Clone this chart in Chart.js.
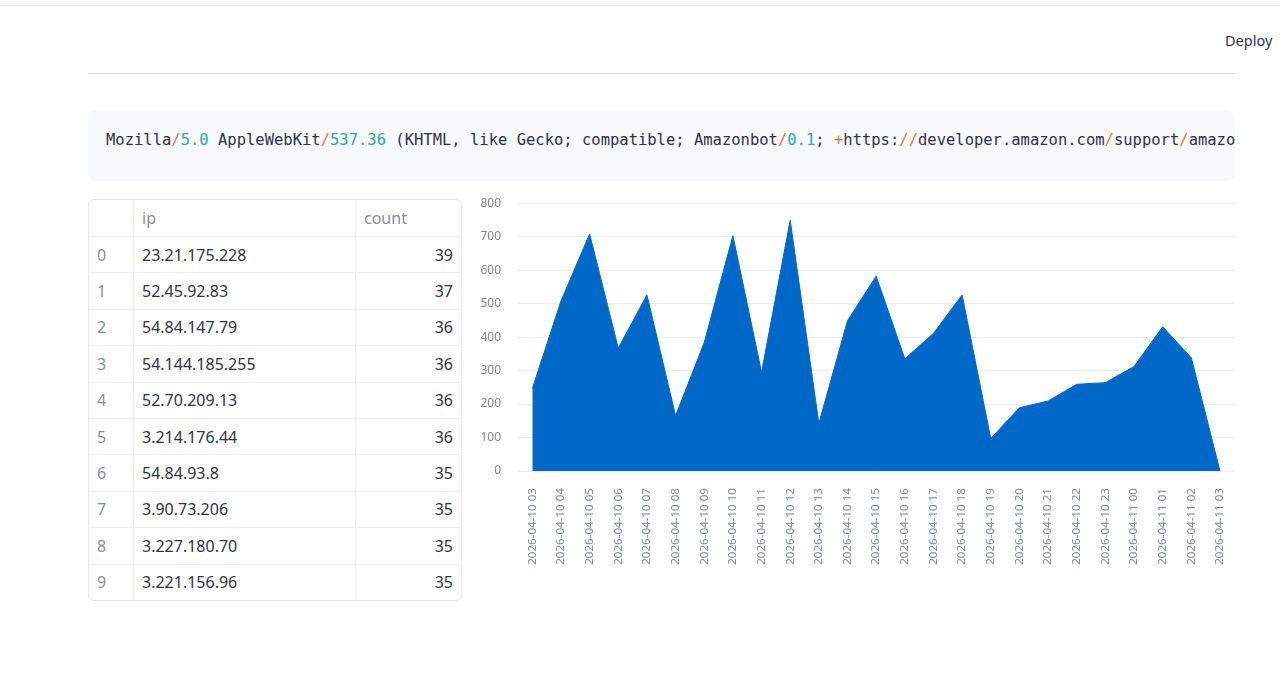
<!DOCTYPE html>
<html>
<head>
<meta charset="utf-8">
<script src="https://cdn.jsdelivr.net/npm/chart.js@4"></script>
<style>
  body { margin: 0; background: #fff; font-family: "Noto Sans", sans-serif; color: #31333f; width: 1280px; height: 684px; position: relative; overflow: hidden; }
  .topline { position: absolute; left: 0; top: 5px; width: 1280px; height: 1px; background: #e6e8ec; }
  .deploy { position: absolute; left: 1225px; top: 30px; font-size: 14.5px; color: #31333f; }
  .rule { position: absolute; left: 88px; top: 73px; width: 1147px; height: 1px; background: #d9dbe0; }
  .code { position: absolute; left: 88px; top: 110px; width: 1147px; height: 71px; background: #f8f9fb; border-radius: 8px; overflow: hidden; }
  .code pre { margin: 0; position: absolute; left: 18px; top: 19px; font-family: "DejaVu Sans Mono", monospace; font-size: 15.5px; line-height: 22px; color: #31333f; white-space: pre; }
  .sl { color: #e0774a; }
  .nu { color: #2fa7a0; }
  .tbl { position: absolute; left: 88px; top: 199px; width: 372px; border: 1px solid #e6e8ee; border-radius: 6px; overflow: hidden; }
  table { border-collapse: collapse; width: 100%; font-size: 16px; }
  td, th { border-right: 1px solid #eceef2; border-bottom: 1px solid #eceef2; height: 35.4px; padding: 0 8px; font-weight: normal; text-align: left; }
  tr:last-child td { border-bottom: none; }
  td:last-child, th:last-child { border-right: none; }
  th { color: #8b8e99; height: 36px; }
  td.i { color: #8b8e99; width: 28px; }
  td.ip { width: 205px; }
  td.c { text-align: right; }
  #wrap { position: absolute; left: 470px; top: 179px; width: 781px; height: 396px; }
</style>
</head>
<body>
<div class="topline"></div>
<div class="deploy">Deploy</div>
<div class="rule"></div>
<div class="code"><pre>Mozilla<span class="sl">/</span><span class="nu">5.0</span> AppleWebKit<span class="sl">/</span><span class="nu">537.36</span> (KHTML, like Gecko; compatible; Amazonbot<span class="sl">/</span><span class="nu">0.1</span>; <span class="sl">+</span>https:<span class="sl">//</span>developer.amazon.com<span class="sl">/</span>support<span class="sl">/</span>amazonbot)</pre></div>
<div class="tbl"><table id="t"></table></div>
<div id="wrap"><canvas id="area_chart"></canvas></div>
<script>
// table data
var ips = ["23.21.175.228","52.45.92.83","54.84.147.79","54.144.185.255","52.70.209.13","3.214.176.44","54.84.93.8","3.90.73.206","3.227.180.70","3.221.156.96"];
var counts = [39,37,36,36,36,36,35,35,35,35];

// hourly requests
var hours = ["2026-04-10 03","2026-04-10 04","2026-04-10 05","2026-04-10 06","2026-04-10 07","2026-04-10 08",
  "2026-04-10 09","2026-04-10 10","2026-04-10 11","2026-04-10 12","2026-04-10 13","2026-04-10 14",
  "2026-04-10 15","2026-04-10 16","2026-04-10 17","2026-04-10 18","2026-04-10 19","2026-04-10 20",
  "2026-04-10 21","2026-04-10 22","2026-04-10 23","2026-04-11 00","2026-04-11 01","2026-04-11 02","2026-04-11 03"];
var hits = [246,508,708,367,526,165,384,703,295,749,142,449,582,335,411,526,97,189,209,259,264,312,431,338,0];

var html = '<tr><th></th><th>ip</th><th>count</th></tr>';
for (var i = 0; i < ips.length; i++) {
  html += '<tr><td class="i">' + i + '</td><td class="ip">' + ips[i] + '</td><td class="c">' + counts[i] + '</td></tr>';
}
document.getElementById("t").innerHTML = html;

var ctx = document.getElementById("area_chart");
new Chart(ctx, {
  type: 'line',
  data: {
    labels: hours,
    datasets: [{
      data: hits,
      fill: 'origin',
      backgroundColor: "#0068c9",
      borderColor: "#0068c9",
      borderWidth: 1,
      pointRadius: 0,
      tension: 0
    }]
  },
  options: {
    responsive: true,
    maintainAspectRatio: false,
    animation: false,
    layout: { padding: { top: 7, right: 5, bottom: 0, left: 0 } },
    plugins: { legend: { display: false }, tooltip: { enabled: false } },
    scales: {
      x: {
        offset: true,
        grid: { display: false, drawTicks: false },
        border: { display: false },
        ticks: { minRotation: 90, maxRotation: 90, autoSkip: false, padding: 17, color: "#808495", font: { family: "Noto Sans", size: 11.6 } },
        afterFit: function (s) { s.height = 104; }
      },
      y: {
        min: 0, max: 800,
        grid: { color: "#eceef3", drawTicks: false },
        border: { display: false },
        ticks: { stepSize: 100, padding: 17, color: "#808495", font: { family: "Noto Sans", size: 12 } },
        afterFit: function (s) { s.width = 48; }
      }
    }
  }
});
</script>
</body>
</html>
